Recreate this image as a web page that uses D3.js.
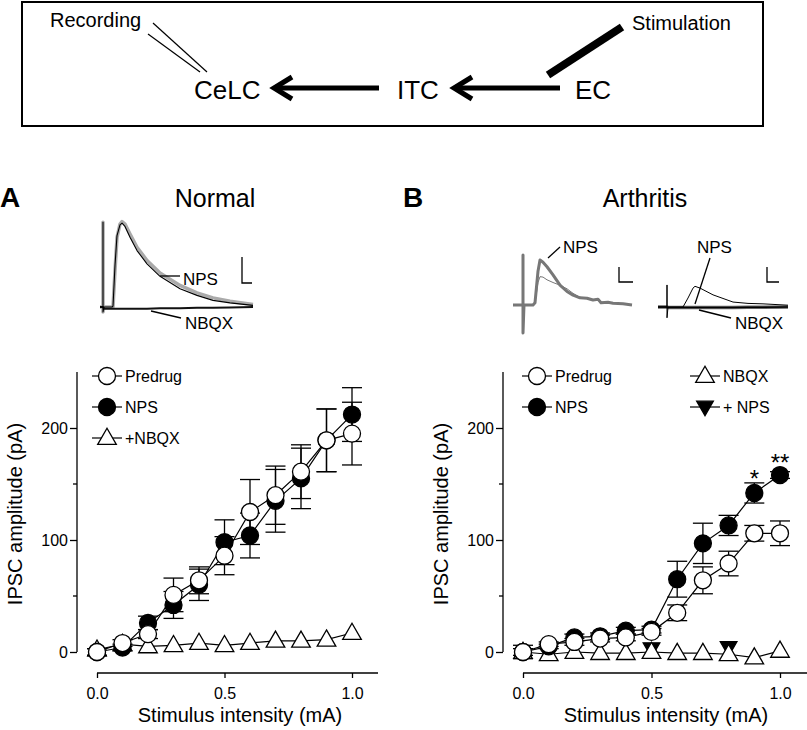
<!DOCTYPE html>
<html><head><meta charset="utf-8">
<script src="https://cdn.jsdelivr.net/npm/d3@7"></script>
<style>body{margin:0;background:#fff} svg{display:block} text{font-family:'Liberation Sans',Arial,sans-serif;fill:#000}</style>
</head><body><svg id="c" width="807" height="730"></svg>
<script>
// ---------- data ----------
const stimulus = [0, 0.1, 0.2, 0.3, 0.4, 0.5, 0.6, 0.7, 0.8, 0.9, 1.0];
const xTicks = [0, 0.5, 1.0];
const yMajorTicks = [0, 100, 200];
const yMinorTicks = [50, 150];

// Panel A (Normal)
const normalPredrug    = [0, 8, 16, 51, 64, 86, 125, 140, 161, 189, 195];
const normalPredrugErr = [3, 3, 4, 15, 12, 17, 29, 26, 24, 28, 28];
const normalNPS        = [0, 4, 26, 42, 60, 98, 104, 135, 155, 189, 212];
const normalNPSErr     = [3, 3, 6, 12, 14, 20, 20, 28, 27, 28, 24];
const normalNBQX       = [2, 7, 5, 6, 8, 6, 8, 10, 10, 11, 17];

// Panel B (Arthritis)
const arthPredrug    = [0, 7, 9, 12, 13, 18, 35, 64, 79, 106, 106];
const arthPredrugErr = [6, 2, 3, 3, 3, 3, 7, 12, 11, 7, 11];
const arthNPS        = [0, 5, 13, 14, 19, 20, 65, 97, 113, 142, 158];
const arthNPSErr     = [3, 2, 3, 3, 3, 3, 16, 18, 9, 9, 3];
const arthNBQX       = [0, -2, 0, -1, -1, 0, -1, -1, -2, -5, 1];
const arthPlusNPSx   = [0.5, 0.8];
const arthPlusNPS    = [3, 4];
const sigX     = [0.9, 1.0];
const sigLabel = ["*", "**"];

// Example traces (time ms, current arbitrary pA units)
const traceA_t    = [0, 3, 3, 3, 4, 12, 13, 15, 17, 20, 22, 25, 30, 37, 47, 60, 80, 97, 113, 130, 153];
const traceA_pre  = [0, 0, 102, -6, 0, 0, 0, 44, 84, 100, 103, 100, 88, 72, 56, 41, 26, 17, 11, 7, 3];
const traceA_nps  = [0, 0, 102, -6, 0, 0, 1, 50, 86, 99, 101, 97, 84, 68, 52, 37, 22, 14, 8, 5, 2];
const traceA_nbqx = [0, 0, 0, 0, -2, -2, -2, -2, -2, -2, -2, -2, -2, -2, -2, -1.5, -1.5, -1, -1, -0.5, 0];

const traceB1_t     = [0, 10, 10, 10, 11, 20, 22, 25, 27, 30, 34, 40, 47, 54, 60, 67, 74, 80, 85, 88, 95, 100, 110, 119];
const traceB1_nps   = [0, 0, 111, -62, 0, 0, 5, 75, 100, 95, 85, 67, 44, 30, 22, 16, 15, 11, 13, 5, 6, 4, 3, 0];
const traceB1_pre   = [0, 0, 111, -62, 0, 0, 5, 50, 63, 62, 56, 50, 44, 36, 26, 17, 15, 11, 10, 6, 6, 4, 3, 0];

const traceB2_t     = [0, 9, 9, 9, 10, 25, 30, 35, 37, 42, 55, 75, 90, 105, 130];
const traceB2_nps   = [0, 0, 49, -24, 0, 0, 20, 42, 46, 42, 27, 11, 8, 7, 4];
const traceB2_nbqx  = [0, 0, 0, 0, -1, -1, -1, -1, -1, -1, -1, -1, -0.5, -0.5, 0];

// ---------- drawing ----------
const svg = d3.select("#c");

// Top schematic
const diag = svg.append("g");
diag.append("rect").attr("x", 22).attr("y", 2).attr("width", 741).attr("height", 124)
  .attr("fill", "none").attr("stroke", "#000").attr("stroke-width", 2);
diag.append("line").attr("x1", 153).attr("y1", 23).attr("x2", 207).attr("y2", 72).attr("stroke", "#000").attr("stroke-width", 1.2);
diag.append("line").attr("x1", 148).attr("y1", 34).attr("x2", 200).attr("y2", 72).attr("stroke", "#000").attr("stroke-width", 1.2);
diag.append("text").attr("x", 50).attr("y", 27).attr("font-size", 20).text("Recording");
diag.append("text").attr("x", 632).attr("y", 30).attr("font-size", 20).text("Stimulation");
diag.append("line").attr("x1", 548).attr("y1", 75).attr("x2", 622).attr("y2", 27).attr("stroke", "#000").attr("stroke-width", 8);
[["CeLC", 194], ["ITC", 397], ["EC", 575]].forEach(([t, x]) =>
  diag.append("text").attr("x", x).attr("y", 99).attr("font-size", 26).text(t));
[[379, 274], [560, 454]].forEach(([x1, tip]) => {
  diag.append("line").attr("x1", x1).attr("y1", 88).attr("x2", tip + 2).attr("y2", 88).attr("stroke", "#000").attr("stroke-width", 5);
  diag.append("path").attr("d", `M${tip + 18},77 L${tip},88 L${tip + 18},99`).attr("fill", "none")
    .attr("stroke", "#000").attr("stroke-width", 5).attr("stroke-linejoin", "miter");
});

// Panel headings
svg.append("text").attr("x", 0).attr("y", 207).attr("font-size", 28).attr("font-weight", "bold").text("A");
svg.append("text").attr("x", 215).attr("y", 207).attr("font-size", 25).attr("text-anchor", "middle").text("Normal");
svg.append("text").attr("x", 403).attr("y", 207).attr("font-size", 28).attr("font-weight", "bold").text("B");
svg.append("text").attr("x", 645).attr("y", 207).attr("font-size", 25).attr("text-anchor", "middle").text("Arthritis");

// Traces
function drawTrace(t, v, xs, ys, color, width) {
  const pts = t.map((d, i) => [d, v[i]]);
  svg.append("path").datum(pts)
    .attr("d", d3.line().x(d => xs(d[0])).y(d => ys(d[1])))
    .attr("fill", "none").attr("stroke", color).attr("stroke-width", width)
    .attr("stroke-linejoin", "round");
}
const xTA = d3.scaleLinear().domain([0, 153]).range([100, 253]);
const yTA = d3.scaleLinear().domain([0, 100]).range([307, 224]);
drawTrace(traceA_t, traceA_pre, xTA, yTA, "#aaa", 3.5);
drawTrace(traceA_t, traceA_nbqx, xTA, yTA, "#111", 2);
drawTrace(traceA_t, traceA_nps, xTA, yTA, "#000", 1.1);

const xTB1 = d3.scaleLinear().domain([0, 119]).range([513, 632]);
const yTB1 = d3.scaleLinear().domain([0, 100]).range([305, 260]);
drawTrace(traceB1_t, traceB1_pre, xTB1, yTB1, "#777", 1);
drawTrace(traceB1_t, traceB1_nps, xTB1, yTB1, "#777", 3);

const xTB2 = d3.scaleLinear().domain([0, 130]).range([658, 788]);
const yTB2 = d3.scaleLinear().domain([0, 100]).range([307, 262]);
drawTrace(traceB2_t, traceB2_nbqx, xTB2, yTB2, "#666", 3.5);
drawTrace(traceB2_t, traceB2_nbqx, xTB2, yTB2, "#000", 1.5);
drawTrace(traceB2_t, traceB2_nps, xTB2, yTB2, "#000", 1);

// trace annotations
const ann = svg.append("g").attr("stroke", "#000").attr("stroke-width", 1.3).attr("fill", "none");
ann.append("path").attr("d", "M160,276 H180");
ann.append("path").attr("d", "M151,311 L181,318");
ann.append("path").attr("d", "M548,258 L560,247");
ann.append("path").attr("d", "M695,304 L710,258");
ann.append("path").attr("d", "M699,310 L731,318");
ann.append("path").attr("d", "M242,257 V283 H252");
ann.append("path").attr("d", "M619,267 V282 H633");
ann.append("path").attr("d", "M767,267 V282 H779");
[["NPS", 183, 285], ["NBQX", 185, 329], ["NPS", 563, 253], ["NPS", 697, 253], ["NBQX", 735, 329]]
  .forEach(([t, x, y]) => svg.append("text").attr("x", x).attr("y", y).attr("font-size", 17).text(t));

// ---------- scatter panels ----------
const triUp = d3.symbol(d3.symbolTriangle, 150)();
const triDown = d3.symbol(d3.symbolTriangle, 120)();

function marker(g, type, cx, cy) {
  if (type === "open" || type === "filled") {
    g.append("circle").attr("cx", cx).attr("cy", cy).attr("r", 8.5)
      .attr("fill", type === "open" ? "#fff" : "#000").attr("stroke", "#000").attr("stroke-width", 1.3);
  } else if (type === "triUp") {
    g.append("path").attr("d", triUp).attr("transform", `translate(${cx},${cy + 1})`)
      .attr("fill", "#fff").attr("stroke", "#000").attr("stroke-width", 1.3);
  } else {
    g.append("path").attr("d", triDown).attr("transform", `translate(${cx},${cy - 1}) rotate(180)`)
      .attr("fill", "#000").attr("stroke", "#000").attr("stroke-width", 1.3);
  }
}

function panel(cfg) {
  const x = d3.scaleLinear().domain([0, 1.1]).range([cfg.x0, cfg.x0 + (cfg.x1 - cfg.x0) * 1.1]);
  const y = d3.scaleLinear().domain([0, 250]).range([652, 372]);
  const g = svg.append("g");

  // y axis
  const ya = g.append("g").attr("transform", `translate(${cfg.yAxisX},0)`)
    .call(d3.axisLeft(y).tickValues(yMajorTicks).tickSize(7).tickPadding(2).tickSizeOuter(0));
  ya.select(".domain").attr("d", `M0,${y(250)}V${y(0)}`);
  ya.selectAll("text").attr("font-size", 16).attr("font-family", "'Liberation Sans',Arial,sans-serif");
  ya.selectAll("line,path").attr("stroke-width", 1.3);
  yMinorTicks.forEach(v => ya.append("line").attr("x1", -4).attr("x2", 0).attr("y1", y(v)).attr("y2", y(v))
    .attr("stroke", "#000").attr("stroke-width", 1.3));

  // x axis
  const xa = g.append("g").attr("transform", `translate(0,673)`)
    .call(d3.axisBottom(x).tickValues(xTicks).tickFormat(d3.format(".1f")).tickSize(5).tickPadding(10).tickSizeOuter(0));
  xa.select(".domain").attr("d", `M${x(0)},0H${cfg.xEnd}`);
  xa.selectAll("text").attr("font-size", 16).attr("font-family", "'Liberation Sans',Arial,sans-serif");
  xa.selectAll("line,path").attr("stroke-width", 1.3);

  g.append("text").attr("transform", `translate(${cfg.yAxisX - 55},514) rotate(-90)`)
    .attr("text-anchor", "middle").attr("font-size", 20).text("IPSC amplitude (pA)");
  g.append("text").attr("x", cfg.titleX).attr("y", 722).attr("text-anchor", "middle")
    .attr("font-size", 20).text("Stimulus intensity (mA)");

  // error bars
  const eb = g.append("g").attr("stroke", "#000").attr("stroke-width", 1.3);
  cfg.series.filter(s => s.err).forEach(s => {
    s.xs.forEach((xv, i) => {
      const cx = x(xv), lo = y(s.vals[i] - s.err[i]), hi = y(s.vals[i] + s.err[i]);
      eb.append("line").attr("x1", cx).attr("x2", cx).attr("y1", lo).attr("y2", hi);
      eb.append("line").attr("x1", cx - 10).attr("x2", cx + 10).attr("y1", lo).attr("y2", lo);
      eb.append("line").attr("x1", cx - 10).attr("x2", cx + 10).attr("y1", hi).attr("y2", hi);
    });
  });
  // lines + markers
  cfg.series.forEach(s => {
    const pts = s.xs.map((xv, i) => [xv, s.vals[i]]);
    if (s.line !== false)
      g.append("path").datum(pts).attr("d", d3.line().x(d => x(d[0])).y(d => y(d[1])))
        .attr("fill", "none").attr("stroke", "#000").attr("stroke-width", 1.2);
    pts.forEach(d => marker(g, s.type, x(d[0]), y(d[1])));
  });

  // legend
  cfg.legend.forEach(([label, type, lx, ly]) => {
    g.append("line").attr("x1", lx - 15).attr("x2", lx + 15).attr("y1", ly).attr("y2", ly)
      .attr("stroke", "#000").attr("stroke-width", 1.2);
    marker(g, type, lx, ly);
    g.append("text").attr("x", lx + 18).attr("y", ly + 6).attr("font-size", 16).text(label);
  });
  return {x, y, g};
}

panel({
  x0: 97, x1: 352, xEnd: 378, yAxisX: 77, titleX: 240,
  series: [
    {xs: stimulus, vals: normalNBQX, type: "triUp"},
    {xs: stimulus, vals: normalNPS, err: normalNPSErr, type: "filled"},
    {xs: stimulus, vals: normalPredrug, err: normalPredrugErr, type: "open"}
  ],
  legend: [["Predrug", "open", 107, 376], ["NPS", "filled", 107, 407], ["+NBQX", "triUp", 107, 438]]
});

const pB = panel({
  x0: 523, x1: 780, xEnd: 807, yAxisX: 503, titleX: 666,
  series: [
    {xs: arthPlusNPSx, vals: arthPlusNPS, type: "triDown", line: false},
    {xs: stimulus, vals: arthNBQX, type: "triUp"},
    {xs: stimulus, vals: arthNPS, err: arthNPSErr, type: "filled"},
    {xs: stimulus, vals: arthPredrug, err: arthPredrugErr, type: "open"}
  ],
  legend: [["Predrug", "open", 537, 376], ["NPS", "filled", 537, 407], ["NBQX", "triUp", 705, 376], ["+ NPS", "triDown", 705, 407]]
});

// significance stars
sigX.forEach((xv, i) => {
  const idx = stimulus.indexOf(xv);
  pB.g.append("text").attr("x", pB.x(xv)).attr("y", pB.y(arthNPS[idx]) + (i === 0 ? -6 : -4))
    .attr("text-anchor", "middle").attr("font-size", 24).text(sigLabel[i]);
});
</script></body></html>
